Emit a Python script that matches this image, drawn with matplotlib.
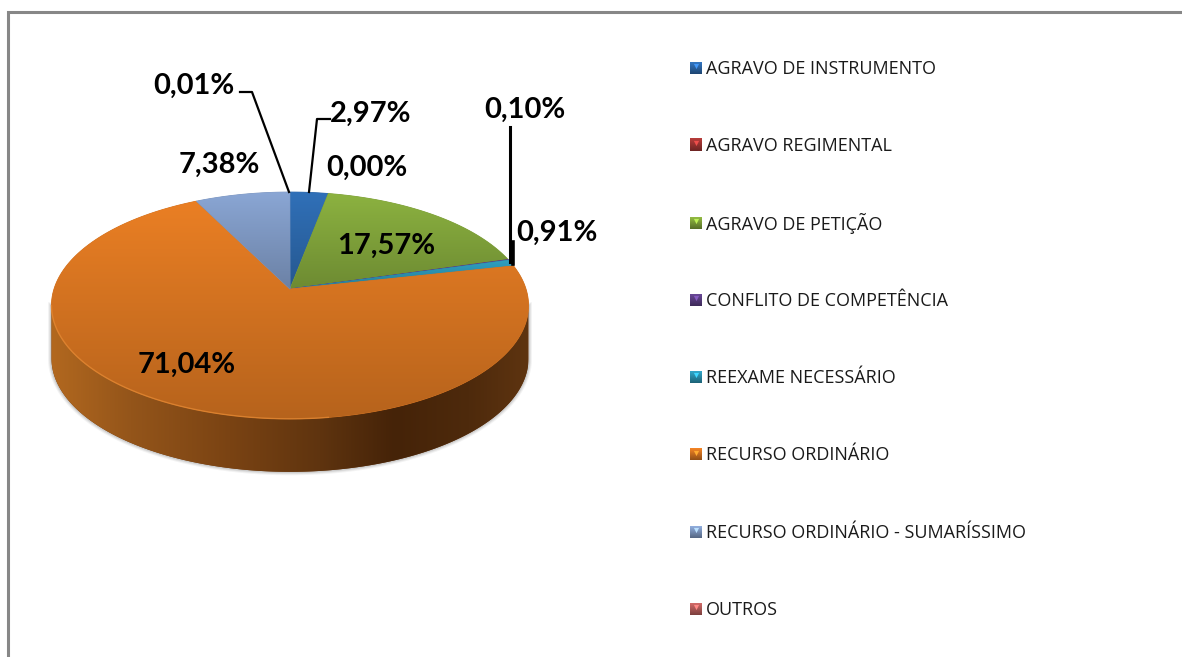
import numpy as np
import matplotlib
matplotlib.use("Agg")
import matplotlib.pyplot as plt
from matplotlib.patches import Polygon
from matplotlib.colors import to_rgb

categories = ["AGRAVO DE INSTRUMENTO", "AGRAVO REGIMENTAL", "AGRAVO DE PETIÇÃO",
              "CONFLITO DE COMPETÊNCIA", "REEXAME NECESSÁRIO", "RECURSO ORDINÁRIO",
              "RECURSO ORDINÁRIO - SUMARÍSSIMO", "OUTROS"]
values = [2.97, 0.00, 17.57, 0.10, 0.91, 71.04, 7.38, 0.01]
colors = ["#3070B8", "#B03A38", "#8CB240", "#64448F", "#2F9FC0", "#EA7F24", "#8AA6D4", "#C86664"]

# pie geometry, in pixels of the picture
cx, cy = 290, 289
rx, ry, persp = 236, 111, 0.145
depth = 53
label_xy = [(371, 114), (367, 168), (386, 246), (525, 110),
            (557, 233), (187, 365), (219, 165), (194, 86)]


def project(theta):
    # theta runs clockwise from 12 o'clock, perspective makes the far side smaller
    x, y = np.sin(theta), np.cos(theta)
    w = 1 + persp * y
    return cx + rx * x / w, cy - ry * y / w


def gradient(ax, clip, extent, rgb):
    img = ax.imshow(rgb, extent=extent, aspect="auto", interpolation="bilinear", zorder=clip.get_zorder())
    img.set_clip_path(clip)


fig = plt.figure(figsize=(11.82, 6.57), dpi=100)
ax = fig.add_axes([0, 0, 1, 1])
ax.axis("off")

# side of the disc
t = np.linspace(0, 2 * np.pi, 721)
ex, ey = project(t)
i_r, i_l = np.argmax(ex), np.argmin(ex)
arc_x, arc_y = ex[i_r:i_l + 1], ey[i_r:i_l + 1]
side_xy = np.r_[np.c_[arc_x, arc_y], np.c_[arc_x, arc_y + depth][::-1]]

# soft shadow round the side
for lw, a in [(5, 0.07), (3.5, 0.10), (2, 0.14)]:
    ax.plot(np.r_[arc_x[0], arc_x, arc_x[-1]],
            np.r_[arc_y[0], arc_y + depth, arc_y[-1]],
            color="#555555", lw=lw, alpha=a, zorder=1)

side = Polygon(side_xy, closed=True, fc="#6b3a12", ec="none", zorder=2)
ax.add_patch(side)
stops_x = [51, 130, 230, 320, 395, 470, 528]
stops_c = ["#B2681F", "#94551A", "#7A4313", "#5F340F", "#452308", "#4E2A0C", "#5E3410"]
gx = np.linspace(51, 528, 240)
side_rgb = np.array([[np.interp(gx, stops_x, [to_rgb(c)[k] for c in stops_c]) for k in range(3)]])
side_rgb = np.transpose(side_rgb, (0, 2, 1)).reshape(1, -1, 3)
gradient(ax, side, (51, 528, 480, 260), side_rgb)

# top face, one wedge per value
angles = 2 * np.pi * np.r_[0, np.cumsum(values)] / sum(values)
for i, v in enumerate(values):
    if v < 0.05:
        continue
    th = np.linspace(angles[i], angles[i + 1], max(int(v * 6), 3))
    wx, wy = project(th)
    pts = np.c_[np.r_[cx, wx], np.r_[cy, wy]]
    base = np.array(to_rgb(colors[i]))
    wedge = Polygon(pts, closed=True, fc=base * 0.9, ec=base * 0.9, lw=0.6, zorder=3)
    ax.add_patch(wedge)
    ymin, ymax = pts[:, 1].min(), pts[:, 1].max()
    shade = np.linspace(1.0, 0.78, 64).reshape(-1, 1, 1)
    gradient(ax, wedge, (pts[:, 0].min(), pts[:, 0].max(), ymax, ymin), base * shade)

# light rim along the front of the top face, it fades out to the right
rim = arc_x < 330
ax.plot(arc_x[rim], arc_y[rim], color="#E58A35", lw=1.0, alpha=0.7, zorder=4)

# leader lines
ax.plot([240, 252, 289], [92, 92, 192], color="black", lw=1.6, zorder=5)
ax.plot([330, 317, 309], [119, 119, 192], color="black", lw=1.6, zorder=5)
ax.plot([510, 510], [127, 262], color="black", lw=2.2, zorder=5)
ax.plot([513, 513], [242, 264], color="black", lw=2.6, zorder=5)

for (lx, ly), v in zip(label_xy, values):
    ax.text(lx, ly, f"{v:.2f}".replace(".", ",") + "%", ha="center", va="center",
            family="Lato", fontweight="bold", fontsize=21, color="black", zorder=6)

# legend
for i, name in enumerate(categories):
    ly = 68 + i * 77.3
    base = np.array(to_rgb(colors[i]))
    shade = np.linspace(1.05, 0.62, 32).reshape(-1, 1, 1)
    ax.imshow(np.clip(base * shade, 0, 1), extent=(690, 702, ly + 6, ly - 6), aspect="auto", zorder=3)
    ax.scatter([696], [ly - 2], marker="v", s=14, color=np.clip(base * 1.35, 0, 1), linewidths=0, zorder=4)
    ax.text(706, ly + 1, name, ha="left", va="center", family="Open Sans", fontsize=13, color="#1a1a1a")

# outer frame, open on the right and at the bottom
ax.plot([8, 8, 1182], [657, 12, 12], color="#878787", lw=2.2, solid_joinstyle="miter", zorder=7)

ax.set_xlim(0, 1182)
ax.set_ylim(657, 0)
fig.savefig("out.png", dpi=100, facecolor="white")
